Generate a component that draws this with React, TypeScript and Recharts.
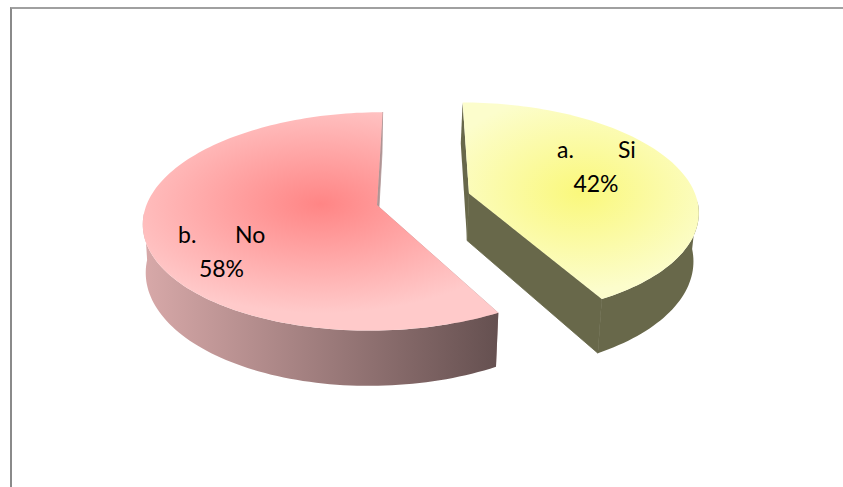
import React from "react";
import { PieChart, Pie } from "recharts";

// Survey answers and their shares, in percent.
const answers = ["a.\tSi", "b.\tNo"];
const shares = [42, 58];

const rows = answers.map((name, i) => ({ name, value: shares[i] }));

// Camera used to lay the flat sectors down as a thick, tilted disc.
const TILT = 0.463;
const PERSPECTIVE = 0.15;
const THICKNESS = 47;
const FLOOR_SHRINK = 0.985;
const FLOOR_PIVOT = -80;
const WALL_FROM_V = 0.05;

type Look = {
  shiftX: number;
  shiftY: number;
  radiusScale: number;
  centre: string;
  rim: string;
  focusY: number;
  wallFrom: string;
  wallTo: string;
  cut: string;
  labelX: number;
  labelY: number;
  wordX: number;
};

const looks: Record<string, Look> = {
  "a.\tSi": {
    shiftX: 49, shiftY: -6.5, radiusScale: 1,
    centre: "#faf87c", rim: "#fcfdcc", focusY: 0.456,
    wallFrom: "#68684a", wallTo: "#68684a", cut: "#68684a",
    labelX: 596, labelY: 175, wordX: 618,
  },
  "b.\tNo": {
    shiftX: -43, shiftY: 5, radiusScale: 1.02,
    centre: "#ff8585", rim: "#ffcaca", focusY: 0.42,
    wallFrom: "#d8a9a9", wallTo: "#655050", cut: "#b09494",
    labelX: 221.5, labelY: 260, wordX: 235,
  },
};

function toScreen(look: Look, cx: number, cy: number, radius: number, deg: number, floor: boolean, reach = 1) {
  const rad = (deg * Math.PI) / 180;
  const u = Math.cos(rad) * reach;
  const v = -Math.sin(rad) * reach;
  const r = radius * look.radiusScale;
  const depth = 1 - PERSPECTIVE * v;
  const px = (look.shiftX + r * u) / depth;
  return {
    x: cx + (floor ? FLOOR_PIVOT + FLOOR_SHRINK * (px - FLOOR_PIVOT) : px),
    y: cy + look.shiftY + (TILT * r * v + (floor ? THICKNESS : 0)) / depth,
  };
}

function pathOf(points: { x: number; y: number }[]) {
  return points.map((p, i) => `${i ? "L" : "M"}${p.x.toFixed(2)} ${p.y.toFixed(2)}`).join(" ") + " Z";
}

// Draws one sector as a wedge: cut faces, curved wall, then the lit top.
function WedgeShape(props: any) {
  const { cx, cy, outerRadius, startAngle, endAngle, name, payload } = props;
  const key = name ?? payload?.name;
  const look = looks[key];
  const id = key.startsWith("a") ? "si" : "no";
  const steps = Math.ceil(Math.abs(endAngle - startAngle) / 1.5);
  const angles = Array.from({ length: steps + 1 }, (_, i) => startAngle + ((endAngle - startAngle) * i) / steps);
  const roofArc = angles.map((a) => toScreen(look, cx, cy, outerRadius, a, false));
  const floorArc = angles.map((a) => toScreen(look, cx, cy, outerRadius, a, true));
  const roofHub = toScreen(look, cx, cy, outerRadius, 0, false, 0);
  const floorHub = toScreen(look, cx, cy, outerRadius, 0, true, 0);
  const last = angles.length - 1;

  // Only the part of the rim that faces the viewer gets a wall.
  const facing = angles.map((a) => -Math.sin((a * Math.PI) / 180) >= WALL_FROM_V);
  const wallRoof = roofArc.filter((_, i) => facing[i]);
  const wallFloor = floorArc.filter((_, i) => facing[i]);

  const transform = `translate(0.5 ${look.focusY}) scale(1.25 1) translate(-0.5 ${-look.focusY})`;

  return (
    <g>
      <defs>
        <radialGradient id={`top-${id}`} cx="0.5" cy={look.focusY} r="0.5" gradientTransform={transform}>
          <stop offset="0%" stopColor={look.centre} />
          <stop offset="100%" stopColor={look.rim} />
        </radialGradient>
        <linearGradient id={`wall-${id}`} x1="0" y1="0" x2="1" y2="0">
          <stop offset="0%" stopColor={look.wallFrom} />
          <stop offset="100%" stopColor={look.wallTo} />
        </linearGradient>
      </defs>
      <path d={pathOf([roofHub, roofArc[0], floorArc[0], floorHub])} fill={look.cut} />
      <path
        d={pathOf([roofHub, roofArc[last], floorArc[last], floorHub])}
        fill={look.cut}
        stroke={look.cut}
        strokeWidth={0.8}
      />
      <path d={pathOf([...wallRoof, ...[...wallFloor].reverse()])} fill={`url(#wall-${id})`} />
      <path d={pathOf([roofHub, ...roofArc])} fill={`url(#top-${id})`} />
    </g>
  );
}

// Two centred lines: the tabbed answer and its share.
function AnswerLabel(props: any) {
  const { name, value, payload } = props;
  const key = name ?? payload?.name;
  const look = looks[key];
  const [letter, word] = String(key).split("\t");
  const letterX = look.labelX - (letter === "a." ? 39 : 43.5);
  const textStyle = { fontFamily: "Lato, sans-serif", fontSize: 23, fill: "#000000" };
  return (
    <g>
      <text x={letterX} y={look.labelY - 17} style={textStyle}>
        {letter}
      </text>
      <text x={look.wordX} y={look.labelY - 17} style={textStyle}>
        {word}
      </text>
      <text x={look.labelX} y={look.labelY + 17} textAnchor="middle" style={textStyle}>
        {`${value}%`}
      </text>
    </g>
  );
}

export default function App() {
  return (
    <div style={{ position: "fixed", left: 0, top: 0, width: 843, height: 487, overflow: "hidden", background: "#ffffff" }}>
      <div
        style={{
          position: "absolute",
          left: 10,
          top: 7,
          width: 900,
          height: 600,
          borderLeft: "2px solid #8a8a8a",
          borderTop: "2px solid #a0a0a0",
        }}
      />
      <div style={{ position: "absolute", left: 0, top: 0 }}>
        <PieChart width={843} height={487} margin={{ top: 0, right: 0, bottom: 0, left: 0 }}>
          <Pie
            data={rows}
            dataKey="value"
            nameKey="name"
            cx={420}
            cy={200}
            innerRadius={0}
            outerRadius={226}
            startAngle={90}
            endAngle={-270}
            stroke="none"
            isAnimationActive={false}
            shape={WedgeShape}
            label={AnswerLabel}
            labelLine={false}
          />
        </PieChart>
      </div>
    </div>
  );
}
